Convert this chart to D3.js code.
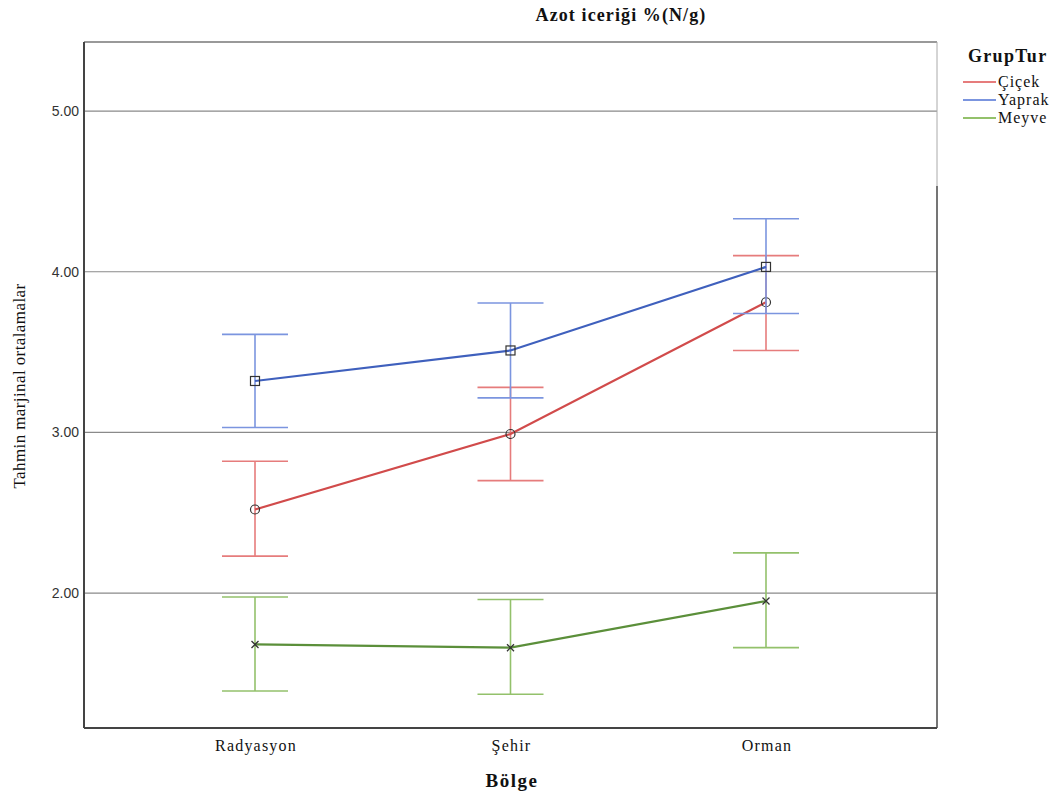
<!DOCTYPE html>
<html><head><meta charset="utf-8">
<script src="https://cdn.jsdelivr.net/npm/d3@7"></script>
<style>body{margin:0;background:#fff}svg{display:block}</style>
</head><body>
<svg id="c" width="1060" height="793"></svg>
<script>
const categories = ["Radyasyon", "Şehir", "Orman"];
const seriesNames = ["Çiçek", "Yaprak", "Meyve"];
const ciçekMean = [2.52, 2.99, 3.81];
const ciçekLow  = [2.23, 2.70, 3.51];
const ciçekHigh = [2.82, 3.28, 4.10];
const yaprakMean = [3.32, 3.51, 4.03];
const yaprakLow  = [3.03, 3.215, 3.74];
const yaprakHigh = [3.61, 3.805, 4.33];
const meyveMean = [1.68, 1.66, 1.95];
const meyveLow  = [1.39, 1.37, 1.66];
const meyveHigh = [1.975, 1.96, 2.25];
const yTicks = [2, 3, 4, 5];

const series = [
  {name: seriesNames[0], mean: ciçekMean, low: ciçekLow, high: ciçekHigh, line: "#d14b4b", bar: "#e67c7c", marker: "circle"},
  {name: seriesNames[1], mean: yaprakMean, low: yaprakLow, high: yaprakHigh, line: "#3f60bd", bar: "#7b95df", marker: "square"},
  {name: seriesNames[2], mean: meyveMean, low: meyveLow, high: meyveHigh, line: "#5b8f3a", bar: "#93c16b", marker: "cross"}
];

const SERIF = "Liberation Serif, Times New Roman, serif";
const svg = d3.select("#c");
const L = 84, R = 937, T = 42, B = 728;
const y = d3.scaleLinear().domain([1.16, 5.43]).range([B, T]);
const x = d3.scalePoint().domain(categories).range([255, 766]);

// gridlines
svg.append("g").selectAll("line").data(yTicks).join("line")
  .attr("x1", L).attr("x2", R).attr("y1", d => y(d)).attr("y2", d => y(d))
  .attr("stroke", "#8a8a8a").attr("stroke-width", 1.2);

// y tick labels
svg.append("g").selectAll("text").data(yTicks).join("text")
  .attr("x", 79).attr("y", d => y(d) + 5).attr("text-anchor", "end")
  .attr("font-family", "Liberation Sans, Arial, sans-serif").attr("font-size", 14).attr("fill", "#333")
  .text(d => d3.format(".2f")(d));

// x tick labels
svg.append("g").selectAll("text").data(categories).join("text")
  .attr("x", d => x(d) + 1).attr("y", 751).attr("text-anchor", "middle")
  .attr("font-family", SERIF).attr("font-size", 16).attr("letter-spacing", 1.2).attr("fill", "#111")
  .text(d => d);

// frame
svg.append("line").attr("x1", L).attr("x2", R).attr("y1", T).attr("y2", T).attr("stroke", "#777").attr("stroke-width", 1.5);
svg.append("line").attr("x1", R).attr("x2", R).attr("y1", T).attr("y2", 186).attr("stroke", "#aaa").attr("stroke-width", 1);
svg.append("line").attr("x1", R).attr("x2", R).attr("y1", 186).attr("y2", B).attr("stroke", "#666").attr("stroke-width", 1.8);
svg.append("line").attr("x1", L).attr("x2", L).attr("y1", T).attr("y2", B).attr("stroke", "#444").attr("stroke-width", 2);
svg.append("line").attr("x1", L).attr("x2", R).attr("y1", B).attr("y2", B).attr("stroke", "#444").attr("stroke-width", 2);

const capW = 33;
series.forEach(s => {
  const g = svg.append("g");
  categories.forEach((c, i) => {
    const cx = x(c);
    g.append("line").attr("x1", cx).attr("x2", cx).attr("y1", y(s.low[i])).attr("y2", y(s.high[i]))
      .attr("stroke", s.bar).attr("stroke-width", 1.6);
    [s.low[i], s.high[i]].forEach(v => g.append("line").attr("x1", cx - capW).attr("x2", cx + capW)
      .attr("y1", y(v)).attr("y2", y(v)).attr("stroke", s.bar).attr("stroke-width", 1.6));
  });
  const line = d3.line().x((d, i) => x(categories[i])).y(d => y(d));
  g.append("path").attr("d", line(s.mean)).attr("fill", "none").attr("stroke", s.line).attr("stroke-width", 2.2);
  categories.forEach((c, i) => {
    const cx = x(c), cy = y(s.mean[i]);
    if (s.marker === "circle") g.append("circle").attr("cx", cx).attr("cy", cy).attr("r", 4.5)
      .attr("fill", "none").attr("stroke", "#333").attr("stroke-width", 1.2);
    else if (s.marker === "square") g.append("rect").attr("x", cx - 4.5).attr("y", cy - 4.5).attr("width", 9).attr("height", 9)
      .attr("fill", "none").attr("stroke", "#333").attr("stroke-width", 1.2);
    else g.append("path").attr("d", `M${cx-3.5},${cy-3.5}L${cx+3.5},${cy+3.5}M${cx-3.5},${cy+3.5}L${cx+3.5},${cy-3.5}`)
      .attr("stroke", "#333").attr("stroke-width", 1.3);
  });
});

// title
svg.append("text").attr("x", 621).attr("y", 21).attr("text-anchor", "middle")
  .attr("font-family", SERIF).attr("font-weight", "bold").attr("font-size", 18).attr("letter-spacing", 1.1).attr("fill", "#111")
  .text("Azot iceriği %(N/g)");
// x axis title
svg.append("text").attr("x", 512).attr("y", 787).attr("text-anchor", "middle")
  .attr("font-family", SERIF).attr("font-weight", "bold").attr("font-size", 19).attr("letter-spacing", 1.5).attr("fill", "#111")
  .text("Bölge");
// y axis title
svg.append("text").attr("transform", "translate(25,386) rotate(-90)").attr("text-anchor", "middle")
  .attr("font-family", SERIF).attr("font-size", 17).attr("letter-spacing", 0.4).attr("fill", "#111")
  .text("Tahmin marjinal ortalamalar");

// legend
const lg = svg.append("g");
lg.append("text").attr("x", 968).attr("y", 62)
  .attr("font-family", SERIF).attr("font-weight", "bold").attr("font-size", 18).attr("letter-spacing", 1.3).attr("fill", "#111")
  .text("GrupTur");
series.forEach((s, i) => {
  const ly = 82 + i * 18;
  lg.append("line").attr("x1", 963).attr("x2", 996).attr("y1", ly).attr("y2", ly).attr("stroke", s.bar).attr("stroke-width", 1.8);
  lg.append("text").attr("x", 998).attr("y", ly + 5).attr("font-family", SERIF)
    .attr("font-size", 16).attr("letter-spacing", 1).attr("fill", "#111").text(s.name);
});
</script>
</body></html>
